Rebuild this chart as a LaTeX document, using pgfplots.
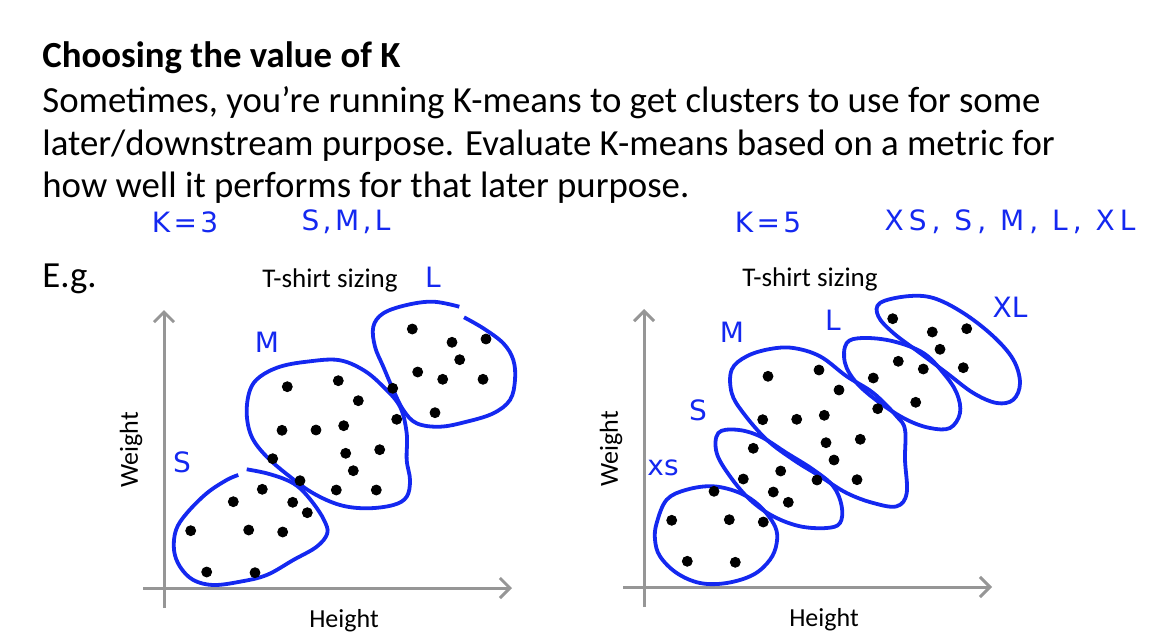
\documentclass[border=0pt]{standalone}
\usepackage{pgfplots}
\pgfplotsset{compat=1.18}
\usepackage{fontspec}
\setmainfont{Carlito}
\newfontfamily\hand{DejaVu Sans}
\usetikzlibrary{arrows.meta}
\definecolor{axgray}{RGB}{150,150,150}
\definecolor{inkblue}{RGB}{20,40,240}
\begin{document}
\begin{tikzpicture}
\path (0,0) rectangle (578.5pt,318.5pt);
\node[anchor=base west, inner sep=0, font=\fontsize{18.4pt}{22pt}\selectfont\bfseries] at (21pt,285pt) {Choosing the value of K};
\node[anchor=base west, inner sep=0, font=\fontsize{18.4pt}{22pt}\selectfont] at (21pt,262.5pt) {Sometimes, you’re running K-means to get clusters to use for some};
\node[anchor=base west, inner sep=0, font=\fontsize{18.4pt}{22pt}\selectfont] at (21pt,241pt) {later/downstream purpose. Evaluate K-means based on a metric for};
\node[anchor=base west, inner sep=0, font=\fontsize{18.4pt}{22pt}\selectfont] at (21pt,220pt) {how well it performs for that later purpose.};
\node[anchor=base west, inner sep=0, font=\fontsize{18.4pt}{22pt}\selectfont] at (21pt,175pt) {E.g.};
\begin{scope}[every node/.style={text=inkblue, inner sep=0, font=\hand\fontsize{14pt}{16pt}\selectfont\addfontfeature{LetterSpace=12}}]
\node at (92.5pt,207.5pt) {K=3};
\node at (173pt,207.5pt) {S,M,L};
\node at (384pt,207.5pt) {K=5};
\node[font=\hand\fontsize{14pt}{16pt}\selectfont\addfontfeature{LetterSpace=18}] at (505pt,207.5pt) {XS, S, M, L, XL};
\end{scope}

% ---------- left: K=3 ----------
\begin{axis}[at={(67pt,9.5pt)}, anchor=south west, scale only axis,
  width=195pt, height=160pt, xmin=-30, xmax=360, ymin=-30, ymax=290,
  hide axis, clip=false]
\draw[axgray, line width=1.5pt, -{Straight Barb[length=5pt,width=10pt]}] (axis cs:0,-20) -- (axis cs:0,278);
\draw[axgray, line width=1.5pt, -{Straight Barb[length=5pt,width=10pt]}] (axis cs:-21,0) -- (axis cs:348,0);
\node[font=\fontsize{13.5pt}{15pt}\selectfont, anchor=base] at (axis cs:166,301) {T-shirt sizing};
\node[font=\fontsize{13pt}{15pt}\selectfont, anchor=base] at (axis cs:180,-39) {Height};
\node[font=\fontsize{13pt}{15pt}\selectfont, rotate=90] at (axis cs:-33,138) {Weight};
\addplot[only marks, mark=*, mark size=2.5pt, black] table {
X Y
26.7 57.3
42.7 16
69.3 86.3
84.7 58
91 15.3
98.3 98.7
118.7 56
128.7 85.7
143.3 75.3
136 107.3
108.7 129.3
123.3 201.3
174.3 207.3
194.3 187.3
118 157.7
152 158
179.7 162.3
181.7 134.7
215.7 138.3
189.3 117.3
172.3 98
212.3 98
228.7 199.7
232.7 168.7
248.3 259
288 245.7
322 249
295.7 228.3
253.7 216
278.7 208.7
319 208.7
271 175.3
};
\begin{scope}[inkblue, line width=1.9pt]
\draw plot[smooth, tension=0.6] coordinates {(axis cs:74.3,113) (axis cs:62.7,108) (axis cs:42.7,94.7) (axis cs:22.7,74.7) (axis cs:12,58) (axis cs:10,38) (axis cs:16,21.3) (axis cs:29.3,8) (axis cs:49.3,3) (axis cs:76,6.3) (axis cs:102.7,13) (axis cs:129.3,28) (axis cs:152.7,41.3) (axis cs:163.3,54.7) (axis cs:160,68) (axis cs:149.3,84.7) (axis cs:136,99.7) (axis cs:122.7,108) (axis cs:102.7,114.7) (axis cs:82.7,118.7)};
\draw plot[smooth cycle, tension=0.6] coordinates {(axis cs:86,198) (axis cs:96,211.3) (axis cs:116,221.3) (axis cs:142.7,226.3) (axis cs:174.3,228) (axis cs:199.3,218) (axis cs:219.3,201.3) (axis cs:236,181.3) (axis cs:242.7,154.7) (axis cs:242.7,128) (axis cs:246,108) (axis cs:242.7,91.3) (axis cs:229.3,83) (axis cs:202.7,79.7) (axis cs:176,83) (axis cs:149.3,94.7) (axis cs:126,111.3) (axis cs:102.7,131.3) (axis cs:87.7,151.3) (axis cs:82.7,174.7)};
\draw plot[smooth, tension=0.6] coordinates {(axis cs:300,270.7) (axis cs:319.3,259.7) (axis cs:339.3,244.7) (axis cs:349.3,228) (axis cs:351,208) (axis cs:346,188) (axis cs:329.3,174.7) (axis cs:302.7,166.3) (axis cs:276,161.3) (axis cs:252.7,164.7) (axis cs:239.3,178) (axis cs:229.3,198) (axis cs:219.3,221.3) (axis cs:211,241.3) (axis cs:209.3,261.3) (axis cs:219.3,274.7) (axis cs:242.7,283) (axis cs:269.3,286.3) (axis cs:295.3,281.3)};
\end{scope}
\begin{scope}[every node/.style={text=inkblue, inner sep=0, font=\hand\fontsize{14pt}{15pt}\selectfont}]
\node at (axis cs:18,126) {S};
\node at (axis cs:103,246) {M};
\node at (axis cs:269,311) {L};
\end{scope}
\end{axis}

% ---------- right: K=5 ----------
\begin{axis}[at={(307pt,10pt)}, anchor=south west, scale only axis,
  width=195pt, height=160pt, xmin=-30, xmax=360, ymin=-30, ymax=290,
  hide axis, clip=false]
\draw[axgray, line width=1.5pt, -{Straight Barb[length=5pt,width=10pt]}] (axis cs:0,-20) -- (axis cs:0,278);
\draw[axgray, line width=1.5pt, -{Straight Barb[length=5pt,width=10pt]}] (axis cs:-21,0) -- (axis cs:348,0);
\node[font=\fontsize{13.5pt}{15pt}\selectfont, anchor=base] at (axis cs:166,301) {T-shirt sizing};
\node[font=\fontsize{13pt}{15pt}\selectfont, anchor=base] at (axis cs:180,-39) {Height};
\node[font=\fontsize{13pt}{15pt}\selectfont, rotate=90] at (axis cs:-33,138) {Weight};
\addplot[only marks, mark=*, mark size=2.5pt, black] table {
X Y
27.7 66.7
43.3 25.7
70 95.7
85.3 67.3
91.3 24.7
119.3 65
109.3 138.7
99.3 108
136.7 116
129.3 95
144.3 84.7
173 107
124 210.7
175 217
195 197
118.7 167.3
152.7 167.7
180.3 171.7
182 144.3
216.3 147.7
190 127
213 107.3
233.7 178.3
229.3 209
254.3 225.7
279.3 218
271.7 184.7
248.7 268.3
288.3 255
322.7 258.3
296 237.7
319.3 219.3
};
\begin{scope}[inkblue, line width=1.9pt]
\draw plot[smooth cycle, tension=0.6] coordinates {(axis cs:12.7,64) (axis cs:22.7,87.3) (axis cs:42.7,97.3) (axis cs:69.3,100.7) (axis cs:96,94) (axis cs:116,80.7) (axis cs:131,60.7) (axis cs:132.7,44) (axis cs:126,27.3) (axis cs:109.3,12.3) (axis cs:82.7,4) (axis cs:56,4) (axis cs:32.7,14) (axis cs:16,30.7) (axis cs:11,47.3)};
\draw plot[smooth cycle, tension=0.6] coordinates {(axis cs:74.3,154) (axis cs:92.7,157.3) (axis cs:116,150.7) (axis cs:142.7,134) (axis cs:169.3,117.3) (axis cs:189.3,100.7) (axis cs:197.7,80.7) (axis cs:196,64) (axis cs:182.7,59) (axis cs:156,60.7) (axis cs:129.3,70.7) (axis cs:106,87.3) (axis cs:86,110.7) (axis cs:72.7,134)};
\draw plot[smooth cycle, tension=0.6] coordinates {(axis cs:87.7,217.3) (axis cs:102.7,230.7) (axis cs:126,238) (axis cs:149.3,239) (axis cs:176,230.7) (axis cs:202.7,210.7) (axis cs:229.3,194) (axis cs:252.7,170.7) (axis cs:261,157.3) (axis cs:261,127.3) (axis cs:262.7,94) (axis cs:252.7,80.7) (axis cs:229.3,84) (axis cs:202.7,94) (axis cs:176,110.7) (axis cs:149.3,127.3) (axis cs:122.7,147.3) (axis cs:99.3,174) (axis cs:87.7,194)};
\draw plot[smooth cycle, tension=0.6] coordinates {(axis cs:202.7,244) (axis cs:219.3,249) (axis cs:249.3,245.7) (axis cs:279.3,234) (axis cs:299.3,214) (axis cs:312.7,194) (axis cs:316,174) (axis cs:306,159) (axis cs:286,159) (axis cs:262.7,167.3) (axis cs:236,184) (axis cs:212.7,204) (axis cs:201,224)};
\draw plot[smooth cycle, tension=0.6] coordinates {(axis cs:236,284) (axis cs:262.7,290.7) (axis cs:289.3,289) (axis cs:319.3,274) (axis cs:349.3,250.7) (axis cs:369.3,227.3) (axis cs:376,204) (axis cs:369.3,187.3) (axis cs:352.7,184) (axis cs:329.3,194) (axis cs:302.7,214) (axis cs:276,234) (axis cs:249.3,254) (axis cs:234.3,270.7)};
\end{scope}
\begin{scope}[every node/.style={text=inkblue, inner sep=0, font=\hand\fontsize{14pt}{15pt}\selectfont}]
\node at (axis cs:19,119) {xs};
\node at (axis cs:54,177) {S};
\node at (axis cs:88,255) {M};
\node at (axis cs:189,267) {L};
\node at (axis cs:366,280) {XL};
\end{scope}
\end{axis}
\end{tikzpicture}
\end{document}
